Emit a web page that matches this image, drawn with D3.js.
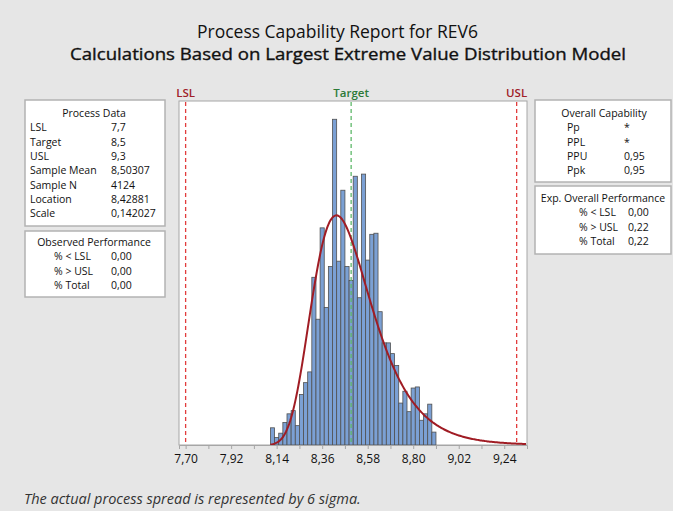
<!DOCTYPE html>
<html>
<head>
<meta charset="utf-8">
<script src="https://cdn.jsdelivr.net/npm/d3@7"></script>
<style>
  body { margin: 0; background: #e6e6e6; }
  svg { display: block; font-family: "Open Sans", "Noto Sans", sans-serif; }
</style>
</head>
<body>
<svg id="chart" width="673" height="511"></svg>
<script>
// histogram bins (width 0.02, first bin starts at 8.11)
var binStart = 8.11;
var binWidth = 0.02;
var counts = [16, 7, 11, 21, 29, 32, 18, 47, 58, 68,
              156, 117, 202, 128, 166, 303, 171, 237, 166, 153,
              250, 137, 252, 172, 196, 197, 124, 95, 95, 85,
              74, 39, 50, 31, 53, 54, 23, 29, 38, 12];

var tickValues = [7.70, 7.92, 8.14, 8.36, 8.58, 8.80, 9.02, 9.24];
var minorTicks = [7.70, 7.81, 7.92, 8.03, 8.14, 8.25, 8.36, 8.47, 8.58, 8.69, 8.80, 8.91, 9.02, 9.13, 9.24];

var specs = [
  {name: "LSL", value: 7.7, color: "#e23c3c", text: "#a02028"},
  {name: "Target", value: 8.5, color: "#5fb86a", text: "#2d7a38"},
  {name: "USL", value: 9.3, color: "#e23c3c", text: "#a02028"}
];

// fitted largest extreme value model
var levLocation = 8.42881;
var levScale = 0.142027;
var sampleN = 4124;

var processData = [
  ["LSL", "7,7"], ["Target", "8,5"], ["USL", "9,3"],
  ["Sample Mean", "8,50307"], ["Sample N", "4124"],
  ["Location", "8,42881"], ["Scale", "0,142027"]
];
var observedPerf = [["% < LSL", "0,00"], ["% > USL", "0,00"], ["% Total", "0,00"]];
var overallCap = [["Pp", "*"], ["PPL", "*"], ["PPU", "0,95"], ["Ppk", "0,95"]];
var expPerf = [["% < LSL", "0,00"], ["% > USL", "0,22"], ["% Total", "0,22"]];

var svg = d3.select("#chart");

// titles
svg.append("text").attr("x", 337.5).attr("y", 38).attr("text-anchor", "middle")
  .attr("textLength", 281).attr("lengthAdjust", "spacingAndGlyphs")
  .style("font-size", "18px").style("fill", "#111").text("Process Capability Report for REV6");
svg.append("text").attr("x", 348).attr("y", 60).attr("text-anchor", "middle")
  .attr("textLength", 556).attr("lengthAdjust", "spacingAndGlyphs")
  .style("font-size", "16px").style("fill", "#111")
  .style("stroke", "#111").style("stroke-width", 0.35)
  .text("Calculations Based on Largest Extreme Value Distribution Model");

// plot area
var plotL = 179, plotR = 527, plotT = 101, plotB = 445;
var x = d3.scaleLinear().domain([7.668, 9.35]).range([plotL, plotR]);
var y = d3.scaleLinear().domain([0, 320]).range([plotB, plotT]);

svg.append("rect").attr("x", plotL).attr("y", plotT)
  .attr("width", plotR - plotL).attr("height", plotB - plotT)
  .style("fill", "white").style("stroke", "#a6a6a6");

var bars = counts.map(function (c, i) {
  return {x0: binStart + i * binWidth, x1: binStart + (i + 1) * binWidth, n: c};
});

svg.append("g").selectAll("rect").data(bars).enter().append("rect")
  .attr("x", function (d) { return x(d.x0); })
  .attr("y", function (d) { return y(d.n); })
  .attr("width", function (d) { return x(d.x1) - x(d.x0); })
  .attr("height", function (d) { return y(0) - y(d.n); })
  .style("fill", "#7ba0d4").style("stroke", "#505050").style("stroke-width", 0.8);

// spec lines
specs.forEach(function (s) {
  svg.append("line")
    .attr("x1", x(s.value)).attr("x2", x(s.value))
    .attr("y1", plotT + 1).attr("y2", plotB)
    .style("stroke", s.color).style("stroke-width", 1.3)
    .style("stroke-dasharray", "4,3");
  svg.append("text").attr("x", x(s.value)).attr("y", 97).attr("text-anchor", "middle")
    .style("font-size", "11.5px").style("font-weight", 600).style("fill", s.text).text(s.name);
});

// fitted density curve scaled to counts
function lev(v) {
  var z = (v - levLocation) / levScale;
  return Math.exp(-z - Math.exp(-z)) / levScale * sampleN * binWidth;
}
var curveX = d3.range(8.11, 9.345, 0.005);
var line = d3.line().x(function (d) { return x(d); }).y(function (d) { return y(lev(d)); });
svg.append("path").datum(curveX).attr("d", line)
  .style("fill", "none").style("stroke", "#a01c24").style("stroke-width", 2);

// axis
var axis = d3.axisBottom(x).tickValues(minorTicks).tickSize(4)
  .tickFormat(function (d) {
    var isMajor = tickValues.some(function (t) { return Math.abs(t - d) < 1e-6; });
    return isMajor ? d3.format(".2f")(d).replace(".", ",") : "";
  });
var g = svg.append("g").attr("transform", "translate(0," + plotB + ")").call(axis);
g.select(".domain").style("stroke", "#a6a6a6");
g.selectAll(".tick line").style("stroke", "#a6a6a6");
g.selectAll(".tick text").style("font-size", "12px").style("fill", "#111")
  .style("font-family", "'Open Sans', sans-serif").attr("dy", "0.95em");

// tables
function box(x0, y0, w, h) {
  svg.append("rect").attr("x", x0).attr("y", y0).attr("width", w).attr("height", h)
    .style("fill", "white").style("stroke", "#b3b3b3").style("stroke-width", 1.5);
}
function table(rows, title, cx, labelX, valueX, y0) {
  svg.append("text").attr("x", cx).attr("y", y0).attr("text-anchor", "middle")
    .style("font-size", "10.5px").style("fill", "#111").text(title);
  rows.forEach(function (r, i) {
    var yy = y0 + 14.3 * (i + 1);
    svg.append("text").attr("x", labelX).attr("y", yy)
      .style("font-size", "10.5px").style("fill", "#111").text(r[0]);
    svg.append("text").attr("x", valueX).attr("y", yy)
      .style("font-size", "10.5px").style("fill", "#111").text(r[1]);
  });
}

box(25, 100, 140, 126);
table(processData, "Process Data", 94, 30, 111, 117);
box(25, 231, 140, 66);
table(observedPerf, "Observed Performance", 94, 54, 111, 246);

box(535, 100, 136, 82);
table(overallCap, "Overall Capability", 604, 567, 624, 117);
box(535, 186, 136, 68);
table(expPerf, "Exp. Overall Performance", 603, 579, 628, 202);

// footer
svg.append("text").attr("x", 24).attr("y", 504)
  .style("font-size", "14.5px").style("font-style", "italic").style("fill", "#333")
  .text("The actual process spread is represented by 6 sigma.");
</script>
</body>
</html>
